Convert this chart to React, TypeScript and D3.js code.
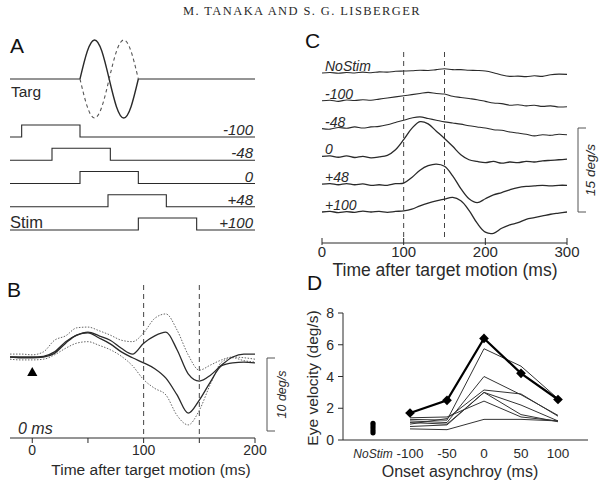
import React from 'react';
import * as d3 from 'd3';

const SANS = '"Liberation Sans", Arial, Helvetica, sans-serif';
const SERIF = '"Liberation Serif", "Times New Roman", serif';
const INK = '#2a2a2a';

// Panel A: stimulus timing schematic
const stimLabels = ['-100', '-48', '0', '+48', '+100'];
const stimOnsets = [-100, -48, 0, 48, 100];
const stimDuration = 100;
const targTimes = [0, 12.5, 25, 37.5, 50, 62.5, 75, 87.5, 100];
const targVel = [0, 0.71, 1, 0.71, 0, -0.71, -1, -0.71, 0];

// Panel B: averaged eye velocity (deg/s)
const bTimes = [-20, -10, 0, 10, 20, 30, 40, 50, 60, 70, 80, 90, 100, 110, 120, 130, 140, 150, 160, 170, 180, 190, 200];
const bUpperDotted = [0.4, 0.4, 0.3, 0.7, 2.3, 2.9, 4.0, 4.1, 3.6, 3.0, 2.3, 2.1, 3.3, 5.3, 5.9, 3.7, 0.3, -1.8, -1.1, -0.4, 0, -0.1, -0.3];
const bUpperSolid = [0, 0, 0, 0.1, 0.7, 2.1, 3.0, 3.4, 2.9, 2.3, 1.2, 0.4, 1.9, 2.9, 3.4, 1.0, -2.3, -3.3, -2.5, -1.1, 0, 0.4, 0.4];
const bLowerSolid = [0, -0.1, -0.1, 0, 0.5, 1.9, 3.0, 3.3, 2.6, 1.8, 0.7, -0.1, -0.8, -1.6, -2.9, -5.2, -7.7, -5.9, -3.4, -1.2, -0.8, -0.7, -0.8];
const bLowerDotted = [-0.3, -0.4, -0.4, -0.3, 0.3, 1.2, 1.9, 2.1, 1.6, 1.0, 0.1, -1.2, -3.1, -4.3, -5.2, -8.0, -9.3, -7.3, -3.7, -0.7, -0.1, -0.5, -0.7];

// Panel C: single-condition eye velocity traces (deg/s)
const cLabels = ['NoStim', '-100', '-48', '0', '+48', '+100'];
const cTimes = [0, 10, 20, 30, 40, 50, 60, 70, 80, 90, 100, 110, 120, 130, 140, 150, 160, 170, 180, 190, 200, 210, 220, 230, 240, 250, 260, 270, 280, 290, 300];
const cNoStim = [0, 0.1, -0.05, 0.1, 0, 0.15, 0.05, 0.2, 0.15, 0.3, 0.35, 0.4, 0.5, 0.45, 0.6, 0.75, 0.6, 0.6, 0.5, 0.45, 0.35, 0.05, -0.35, -0.6, -0.55, -0.65, -0.5, -0.6, -0.3, -0.2, -0.25];
const cM100 = [0, 0.1, -0.1, 0.15, 0.05, 0.2, 0.1, 0.3, 0.5, 0.7, 0.9, 1.1, 1.3, 1.5, 1.3, 1.2, 0.8, 0.6, 0.4, 0.2, -0.1, -0.4, -0.5, -0.8, -0.7, -0.9, -0.8, -1.0, -0.9, -1.1, -1.05];
const cM48 = [0, -0.1, 0.2, 0.05, 0.3, 0.1, 0.3, 0.4, 0.7, 1.1, 1.5, 1.9, 2.1, 1.8, 1.5, 1.2, 1.0, 0.8, 0.5, 0.3, 0.1, -0.2, -0.3, -0.6, -0.8, -1.0, -1.3, -1.1, -1.2, -1.0, -1.1];
const cZero = [0, 0.1, -0.15, 0.1, -0.2, 0, -0.25, -0.1, 0.2, 1.2, 3.0, 5.0, 6.2, 5.8, 4.5, 3.2, 1.8, 0.3, -0.6, -0.9, -1.1, -0.9, -1.2, -1.0, -1.1, -0.9, -1.0, -0.8, -0.7, -0.6, -0.5];
const cP48 = [0, 0.1, -0.1, 0.1, -0.1, 0.05, -0.2, -0.1, -0.2, 0.1, 0.2, 1.2, 2.5, 3.3, 3.6, 3.2, 1.5, -0.8, -2.6, -3.3, -2.6, -1.9, -1.5, -1.0, -0.6, -0.4, -0.3, -0.2, -0.3, -0.2, -0.2];
const cP100 = [0, 0.1, -0.1, 0.05, -0.05, 0.15, 0, 0.1, -0.05, 0.1, 0.2, 0.5, 1.1, 1.6, 2.0, 2.3, 2.6, 2.0, 0.3, -2.0, -3.6, -3.8, -2.9, -2.3, -1.9, -1.3, -1.0, -0.7, -0.4, -0.2, 0];
const cTraces = [cNoStim, cM100, cM48, cZero, cP48, cP100];

// Panel D: eye velocity vs onset asynchrony
const dCategories = ['NoStim', '-100', '-50', '0', '50', '100'];
const dAsync = ['-100', '-50', '0', '50', '100'];
const dMean = [1.7, 2.5, 6.4, 4.2, 2.55];
const dSessions = [
  [1.3, 1.25, 5.75, 4.65, 2.6],
  [1.2, 1.1, 4.0, 2.85, 1.55],
  [1.0, 1.35, 3.15, 2.9, 1.5],
  [1.1, 1.0, 3.0, 2.2, 1.2],
  [1.4, 1.45, 2.45, 1.45, 1.2],
  [0.85, 0.95, 3.0, 1.6, 1.15],
  [0.7, 0.65, 1.3, 1.3, 1.2],
];
const dNoStim = [1.05, 0.9, 0.75, 0.6, 0.45];
const dYTicks = [0, 2, 4, 6, 8];

export default function App() {
  // ---- A ----
  const xA = d3.scaleLinear().domain([-120, 300]).range([10, 255]);
  const rowA = d3.scalePoint<string>().domain(stimLabels).range([137, 230]);
  const yTarg = d3.scaleLinear().domain([-1, 1]).range([118, 40]);
  const targSolid = d3.line<number>().x((_, i) => xA(targTimes[i])).y((v) => yTarg(v)).curve(d3.curveNatural)(targVel) as string;
  const targDashed = d3.line<number>().x((_, i) => xA(targTimes[i])).y((v) => yTarg(-v)).curve(d3.curveNatural)(targVel) as string;
  const stepLine = d3.line<[number, number]>();

  // ---- B ----
  const xB = d3.scaleLinear().domain([-20, 200]).range([10, 255]);
  const yB = d3.scaleLinear().domain([0, 10]).range([357, 284]);
  const bLine = d3.line<number>().x((_, i) => xB(bTimes[i])).y((v) => yB(v)).curve(d3.curveMonotoneX);

  // ---- C ----
  const xC = d3.scaleLinear().domain([0, 300]).range([322, 567]);
  const rowC = d3.scalePoint<string>().domain(cLabels).range([73, 212]);
  const dyC = d3.scaleLinear().domain([0, 15]).range([0, -84]);

  // ---- D ----
  const xD = d3.scalePoint<string>().domain(dCategories).range([373, 558]);
  const yD = d3.scaleLinear().domain([0, 8]).range([440, 313]);
  const dLine = d3.line<number>().x((_, i) => xD(dAsync[i]) as number).y((v) => yD(v));

  return (
    <div style={{ position: 'absolute', left: 0, top: 0 }}>
      <svg width={600} height={483} style={{ display: 'block', background: '#fff', fontFamily: SANS }}>
        <text x={302} y={15} textAnchor="middle" fontFamily={SERIF} fontSize={12.5} letterSpacing={1.4} fill={INK}>
          M. TANAKA AND S. G. LISBERGER
        </text>

        {/* Panel A */}
        <text x={10} y={53} fontSize={21} fill="#111">A</text>
        <line x1={xA(-120)} x2={xA(0)} y1={yTarg(0)} y2={yTarg(0)} stroke={INK} strokeWidth={1} />
        <line x1={xA(100)} x2={xA(300)} y1={yTarg(0)} y2={yTarg(0)} stroke={INK} strokeWidth={1} />
        <path d={targSolid} fill="none" stroke={INK} strokeWidth={1.4} />
        <path d={targDashed} fill="none" stroke="#555" strokeWidth={1.1} strokeDasharray="3.5,3" />
        <text x={11} y={97} fontSize={15.5} fill={INK}>Targ</text>
        {stimLabels.map((lab, i) => {
          const y = rowA(lab) as number;
          const on = stimOnsets[i];
          const pts: [number, number][] = [
            [xA(-120), y], [xA(on), y], [xA(on), y - 12],
            [xA(on + stimDuration), y - 12], [xA(on + stimDuration), y], [xA(300), y],
          ];
          return (
            <g key={lab}>
              <path d={stepLine(pts) as string} fill="none" stroke={INK} strokeWidth={1.1} />
              <text x={253} y={y - 2} textAnchor="end" fontSize={15} fontStyle="italic" fill={INK}>{lab}</text>
            </g>
          );
        })}
        <text x={10} y={228} fontSize={16.5} fill={INK}>Stim</text>

        {/* Panel B */}
        <text x={7} y={297} fontSize={21} fill="#111">B</text>
        {[100, 150].map((t) => (
          <line key={t} x1={xB(t)} x2={xB(t)} y1={285} y2={438} stroke="#444" strokeWidth={1} strokeDasharray="5,4" />
        ))}
        <path d={bLine(bUpperDotted) as string} fill="none" stroke="#666" strokeWidth={1} strokeDasharray="1.5,1.5" />
        <path d={bLine(bLowerDotted) as string} fill="none" stroke="#666" strokeWidth={1} strokeDasharray="1.5,1.5" />
        <path d={bLine(bUpperSolid) as string} fill="none" stroke={INK} strokeWidth={1.3} />
        <path d={bLine(bLowerSolid) as string} fill="none" stroke={INK} strokeWidth={1.3} />
        <path d={d3.symbol(d3.symbolTriangle, 45)() as string} transform={`translate(${xB(0)},373)`} fill="#000" />
        <text x={18} y={434} fontSize={16} fontStyle="italic" fill={INK}>0 ms</text>
        <line x1={xB(-20)} x2={xB(200)} y1={438} y2={438} stroke={INK} strokeWidth={1} />
        {[0, 50, 100, 150, 200].map((t) => (
          <line key={t} x1={xB(t)} x2={xB(t)} y1={438} y2={443} stroke={INK} strokeWidth={1} />
        ))}
        {[0, 100, 200].map((t) => (
          <text key={t} x={xB(t)} y={455} textAnchor="middle" fontSize={14} fill={INK}>{t}</text>
        ))}
        <text x={151} y={475} textAnchor="middle" fontSize={15.5} fill={INK}>Time after target motion (ms)</text>
        <path d={`M275,${yB(0) + 1}H267V${yB(-10) + 1}H275`} fill="none" stroke="#555" strokeWidth={1} />
        <text transform={`translate(286,${(yB(0) + yB(-10)) / 2 + 1}) rotate(-90)`} textAnchor="middle" fontSize={12.5} fontStyle="italic" fill={INK}>10 deg/s</text>

        {/* Panel C */}
        <text x={305} y={48} fontSize={21} fill="#111">C</text>
        {[100, 150].map((t) => (
          <line key={t} x1={xC(t)} x2={xC(t)} y1={52} y2={240} stroke="#444" strokeWidth={1} strokeDasharray="5,4" />
        ))}
        {cLabels.map((lab, k) => {
          const base = rowC(lab) as number;
          const path = d3.line<number>()
            .x((_, i) => xC(cTimes[i]))
            .y((v) => base + dyC(v))
            .curve(d3.curveCatmullRom)(cTraces[k]) as string;
          return (
            <g key={lab}>
              <path d={path} fill="none" stroke={INK} strokeWidth={k >= 3 ? 1.3 : 1.1} />
              <text x={xC(0) + 3} y={base - 2} fontSize={14} fontStyle="italic" fill={INK}>{lab}</text>
            </g>
          );
        })}
        <line x1={xC(0)} x2={xC(300)} y1={243} y2={243} stroke={INK} strokeWidth={1} />
        {[0, 100, 200, 300].map((t) => (
          <g key={t}>
            <line x1={xC(t)} x2={xC(t)} y1={238} y2={245} stroke={INK} strokeWidth={1} />
            <text x={xC(t)} y={257} textAnchor="middle" fontSize={15} fill={INK}>{t}</text>
          </g>
        ))}
        <text x={445} y={276} textAnchor="middle" fontSize={17.5} fill={INK}>Time after target motion (ms)</text>
        <path d={`M586,128H578V${128 - dyC(15)}H586`} fill="none" stroke="#555" strokeWidth={1} />
        <text transform="translate(595,170) rotate(-90)" textAnchor="middle" fontSize={13.5} fontStyle="italic" fill={INK}>15 deg/s</text>

        {/* Panel D */}
        <text x={307} y={290} fontSize={21} fill="#111">D</text>
        <line x1={343} x2={343} y1={yD(8)} y2={yD(0)} stroke={INK} strokeWidth={1} />
        <line x1={343} x2={588} y1={yD(0)} y2={yD(0)} stroke={INK} strokeWidth={1} />
        {dYTicks.map((v) => (
          <g key={v}>
            <line x1={338} x2={343} y1={yD(v)} y2={yD(v)} stroke={INK} strokeWidth={1} />
            <text x={334} y={yD(v) + 5} textAnchor="end" fontSize={14} fill={INK}>{v}</text>
          </g>
        ))}
        {dCategories.map((c) => (
          <text key={c} x={xD(c)} y={458} textAnchor="middle" fontSize={c === 'NoStim' ? 12 : 13.5} fontStyle={c === 'NoStim' ? 'italic' : 'normal'} fill={INK}>{c}</text>
        ))}
        <text x={460} y={477} textAnchor="middle" fontSize={16} fill={INK}>Onset asynchroy (ms)</text>
        <text transform="translate(318,378) rotate(-90)" textAnchor="middle" fontSize={15.5} fill={INK}>Eye velocity (deg/s)</text>
        {dSessions.map((s, i) => (
          <path key={i} d={dLine(s) as string} fill="none" stroke="#333" strokeWidth={1} />
        ))}
        <path d={dLine(dMean) as string} fill="none" stroke="#000" strokeWidth={2.2} />
        {dMean.map((v, i) => (
          <path key={i} d={d3.symbol(d3.symbolDiamond2, 60)() as string} transform={`translate(${xD(dAsync[i])},${yD(v)})`} fill="#000" />
        ))}
        {dNoStim.map((v, i) => (
          <circle key={i} cx={xD('NoStim')} cy={yD(v)} r={2.6} fill="#000" />
        ))}
      </svg>
    </div>
  );
}
